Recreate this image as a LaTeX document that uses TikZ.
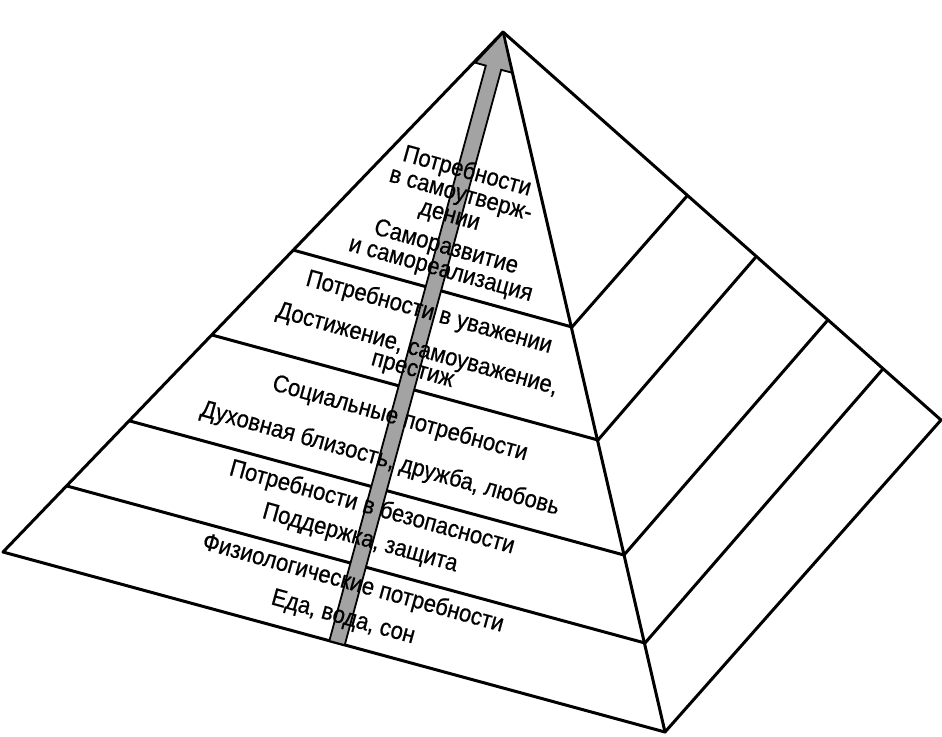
\documentclass[tikz,border=0pt]{standalone}
\usepackage{fontspec}
\setmainfont{Liberation Sans}[FakeStretch=0.9,FakeBold=0.6]
\begin{document}
\begin{tikzpicture}[x=0.5pt,y=-0.5pt,
  edge/.style={line width=1.5pt, line join=round, line cap=round},
  lbl/.style={font=\fontsize{12.2}{14}\selectfont, rotate=-15.5, inner sep=0pt},
  uparrow/.style={fill=black!36, draw=black, line width=0.9pt, line join=miter}]
\useasboundingbox (0,0) rectangle (942,736);
% corners
\coordinate (A) at (503,32);
\coordinate (L) at (3,552);
\coordinate (F) at (665,732);
\coordinate (R) at (941,420);
% left edge
\coordinate (Q1) at (293,250);
\coordinate (Q2) at (212,335);
\coordinate (Q3) at (130,421);
\coordinate (Q4) at (67,486);
% front edge
\coordinate (P1) at (572,327);
\coordinate (P2) at (598,440);
\coordinate (P3) at (624,555);
\coordinate (P4) at (645,643);
% right edge
\coordinate (R1) at (687,196);
\coordinate (R2) at (755,258);
\coordinate (R3) at (827,321);
\coordinate (R4) at (882,370);
% outline
\draw[edge] (A) -- (L) -- (F) -- (R) -- cycle;
\draw[edge] (A) -- (F);
\foreach \i in {1,2,3,4}{
  \draw[edge] (Q\i) -- (P\i) -- (R\i);
}
% arrow
\coordinate (T) at (503,33);
\coordinate (B) at (337,643);
\draw[uparrow] (329.3,640.9) -- (485.8,65.6) -- (475.2,62.7) -- (T)
   -- (511.9,72.7) -- (501.2,69.8) -- (344.7,645.1) -- cycle;
% labels
\node[lbl] (t1) at (467,172) {Потребности};
\node[lbl] (t2) at (460,197) {в самоутверж-};
\node[lbl] (t3) at (449,218) {дении};
\node[lbl] (t4) at (446,248) {Саморазвитие};
\node[lbl] (t5) at (440,272) {и самореализация};
\node[lbl] (t6) at (429,313) {Потребности в уважении};
\node[lbl] (t7) at (417,350) {Достижение, самоуважение,};
\node[lbl] (t8) at (412,372) {престиж};
\node[lbl] (t9) at (400,419) {Социальные потребности};
\node[lbl] (t10) at (380,459) {Духовная близость, дружба, любовь};
\node[lbl] (t11) at (372,508) {Потребности в безопасности};
\node[lbl] (t12) at (360,539) {Поддержка, защита};
\node[lbl] (t13) at (353,584) {Физиологические потребности};
\node[lbl] (t14) at (343,618) {Еда, вода, сон};
\end{tikzpicture}
\end{document}
